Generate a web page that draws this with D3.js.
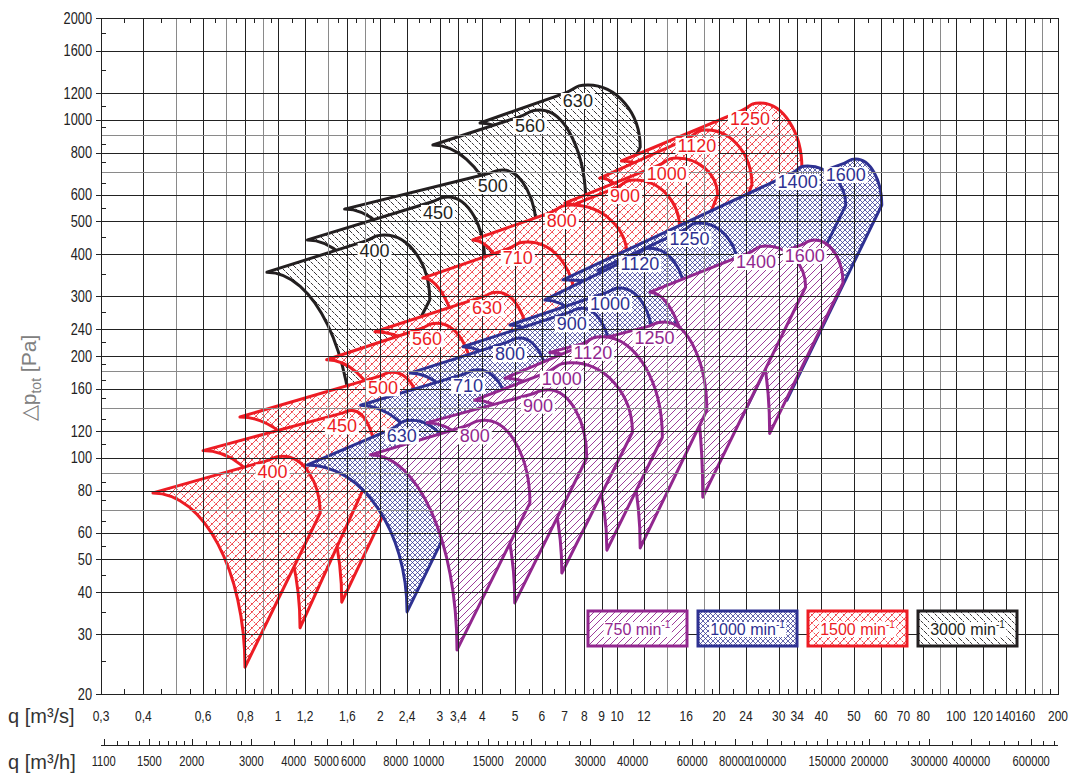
<!DOCTYPE html>
<html>
<head>
<meta charset="utf-8">
<script src="https://cdn.jsdelivr.net/npm/d3@7"></script>
<style>
  body { margin: 0; background: #fff; }
  svg { display: block; font-family: "Liberation Sans", Arial, sans-serif; }
</style>
</head>
<body>
<div id="chart"></div>
<script>
// ---------------------------------------------
// ---------          Data           -----------
// ---------------------------------------------

// flow axis q [m3/s]
const qGrid = [0.3,0.4,0.5,0.6,0.7,0.8,0.9,1,1.2,1.4,1.6,1.8,2,2.4,3,3.4,4,5,6,7,8,9,10,12,14,16,18,20,24,30,34,40,50,60,70,80,90,100,120,140,160,180,200];
const qLabels = [0.3,0.4,0.6,0.8,1,1.2,1.6,2,2.4,3,3.4,4,5,6,7,8,9,10,12,16,20,24,30,34,40,50,60,70,80,100,120,140,160,200];
const qMinor = [0.35,0.45,0.55,0.65,0.75,0.85,0.95,1.1,1.3,1.5,1.7,1.9,2.2,2.6,2.8,3.2,3.6,3.8,4.5,5.5,6.5,7.5,8.5,9.5,11,13,15,17,19,22,26,28,32,36,38,45,55,65,75,85,95,110,130,150,170,190];

// flow axis q [m3/h]
const qhLabels = [1100,1500,2000,3000,4000,5000,6000,8000,10000,15000,20000,30000,40000,60000,80000,100000,150000,200000,300000,400000,600000];
const qhMinor = [1200,1300,1400,1600,1700,1800,1900,2200,2400,2600,2800,3500,4500,5500,7000,9000,11000,12000,13000,14000,16000,17000,18000,19000,22000,24000,26000,28000,35000,45000,50000,55000,65000,70000,90000,110000,120000,130000,140000,160000,170000,180000,190000,220000,240000,260000,280000,350000,450000,500000,550000,650000,700000];

// pressure axis dp [Pa]
const pGrid = [2000,1600,1200,1000,900,800,700,600,500,400,300,240,200,180,160,140,120,100,90,80,70,60,50,40,30,20];
const pLabels = [2000,1600,1200,1000,800,600,500,400,300,240,200,160,120,100,80,60,50,40,30,20];
const pMinor = [1800,1400,1100,950,850,750,650,550,450,350,270,220,190,170,150,130,110,85,75,65,55,45,35,25];

// fan fields: [size, tip q, tip p, peak q, peak p, dome end q, dome end p, bottom q, bottom p]
const fans3000 = [
  [400, 0.926, 354, 2.06, 456, 2.80, 293, 1.66, 105],
  [450, 1.22, 441, 3.17, 591, 4.07, 379, 2.18, 131],
  [500, 1.57, 544, 4.60, 710, 5.80, 456, 2.82, 162],
  [560, 2.86, 842, 5.92, 1068, 8.09, 559, 5.13, 250],
  [630, 3.94, 978, 8.20, 1267, 11.7, 830, 7.06, 291]
];
const fans1500 = [
  [400, 0.427, 78.7, 1.03, 101, 1.33, 68.6, 0.798, 24.0],
  [450, 0.600, 105, 1.65, 138, 1.94, 97.2, 1.16, 31.4],
  [500, 0.771, 132, 2.18, 179, 2.69, 121, 1.54, 37.4],
  [560, 1.39, 195, 2.94, 250, 3.73, 172, 2.35, 65.4],
  [630, 1.93, 236, 4.42, 309, 5.45, 216, 3.63, 92.0],
  [710, 2.67, 340, 5.45, 435, 7.50, 289, 3.89, 67.7],
  [800, 3.75, 441, 7.35, 559, 10.7, 395, 5.72, 92.0],
  [900, 5.53, 498, 11.3, 663, 15.3, 478, 8.31, 113],
  [1000, 7.01, 567, 15.0, 771, 19.8, 599, 10.9, 134],
  [1120, 8.89, 672, 18.4, 933, 25.0, 641, 13.8, 153],
  [1250, 10.3, 755, 26.4, 1121, 35.1, 720, 19.4, 182]
];
const fans1000 = [
  [630, 1.22, 95.2, 2.48, 129, 3.48, 75.0, 2.40, 35.0],
  [710, 1.75, 143, 3.89, 182, 4.89, 121, 3.32, 41.2],
  [800, 2.45, 178, 5.17, 226, 6.33, 153, 4.36, 49.8],
  [900, 3.51, 213, 7.87, 277, 9.65, 188, 6.12, 61.1],
  [1000, 4.83, 247, 10.2, 318, 12.7, 223, 8.31, 72.5],
  [1120, 6.12, 293, 12.5, 417, 15.8, 303, 10.5, 85.9],
  [1250, 8.78, 359, 17.5, 495, 22.7, 364, 14.5, 102],
  [1400, 6.92, 336, 36.5, 730, 47.3, 559, 23.3, 131],
  [1600, 26.4, 603, 50.6, 765, 60.4, 559, 31.7, 148]
];
const fans750 = [
  [800, 1.87, 102, 4.07, 129, 5.53, 73.5, 3.37, 27.0],
  [900, 2.75, 127, 6.25, 159, 8.14, 99.8, 4.99, 37.2],
  [1000, 3.80, 148, 7.35, 191, 11.1, 119, 6.87, 45.6],
  [1120, 4.67, 172, 9.08, 228, 13.6, 115, 9.33, 53.3],
  [1250, 6.33, 205, 13.8, 252, 18.4, 138, 11.7, 54.1],
  [1400, 12.5, 309, 27.5, 423, 36.0, 320, 17.9, 76.5],
  [1600, 19.8, 345, 38.3, 441, 46.4, 329, 28.2, 118]
];

const speedNames = ["750", "1000", "1500", "3000"];
const speedColors = ["#92278f", "#2e3192", "#ed1c24", "#231f20"];
const speedFans = [fans750, fans1000, fans1500, fans3000];

// ---------------------------------------------
// ---------        Layout           -----------
// ---------------------------------------------

const W = 1070, H = 774;
const plot = {left: 101, right: 1058, top: 18, bottom: 694};
const narrow = 0.8;   // horizontal squeeze for the condensed tick fonts

const x = d3.scaleLog().domain([0.3, 200]).range([plot.left, plot.right]);
const xh = d3.scaleLog().domain([1080, 720000]).range([plot.left, plot.right]);
const y = d3.scaleLog().domain([20, 2000]).range([plot.bottom, plot.top]);

const svg = d3.select("#chart")
  .append("svg")
    .attr("width", W)
    .attr("height", H);

const defs = svg.append("defs");

// hatch patterns, white underneath so the fields hide what is behind
function addPattern(id, size, color, paths, width, dashes) {
  const p = defs.append("pattern")
    .attr("id", id)
    .attr("patternUnits", "userSpaceOnUse")
    .attr("width", size)
    .attr("height", size);
  p.append("rect").attr("width", size).attr("height", size).attr("fill", "#fff");
  paths.forEach((d, i) => {
    p.append("path")
      .attr("d", d)
      .attr("fill", "none")
      .attr("stroke", color)
      .attr("stroke-width", width)
      .attr("stroke-dasharray", dashes[i] || null);
  });
}
addPattern("pat750", 7, speedColors[0], ["M0,7L7,0M-1,1L1,-1M6,8L8,6"], 0.9, []);
addPattern("pat1000", 5, speedColors[1], ["M0,5L5,0M-1,1L1,-1M4,6L6,4", "M0,0L5,5M-1,4L1,6M4,-1L6,1"], 0.75, []);
addPattern("pat1500", 8, speedColors[2], ["M0,8L8,0M-1,1L1,-1M7,9L9,7", "M0,0L8,8M-1,7L1,9M7,-1L9,1"], 0.8, [null, "2.5,1.5"]);
addPattern("pat3000", 7, speedColors[3], ["M0,0L7,7M-1,6L1,8M6,-1L8,1"], 0.9, ["3,1"]);

// ---------------------------------------------
// ---------       Fan fields        -----------
// ---------------------------------------------

function fanPath(f) {
  const T = [x(f[1]), y(f[2])], P = [x(f[3]), y(f[4])],
        D = [x(f[5]), y(f[6])], B = [x(f[7]), y(f[8])];
  const sx = Math.max(T[0] + 4, P[0] - 0.45 * (D[0] - P[0]));
  const k = (sx - T[0]) / (P[0] - T[0]);
  const S = [sx, T[1] + k * (P[1] - T[1])];
  const ux = P[0] - T[0], uy = P[1] - T[1], ul = Math.hypot(ux, uy);
  const h = (P[0] - S[0]) * 0.6;
  const p = d3.path();
  p.moveTo(T[0], T[1]);
  p.lineTo(S[0], S[1]);
  p.bezierCurveTo(S[0] + ux / ul * h, S[1] + uy / ul * h, P[0] - h, P[1], P[0], P[1]);
  p.bezierCurveTo(P[0] + 0.55 * (D[0] - P[0]), P[1], D[0], D[1] - 0.55 * (D[1] - P[1]), D[0], D[1]);
  p.lineTo(B[0], B[1]);
  p.bezierCurveTo(B[0], B[1] - 0.55 * (B[1] - T[1]), T[0] + 0.55 * (B[0] - T[0]), T[1], T[0], T[1]);
  p.closePath();
  return p.toString();
}

const fieldsG = svg.append("g");
// back to front: 3000, 1500, 1000, 750 ; inside a speed the big sizes first
[3, 2, 1, 0].forEach(si => {
  const sorted = speedFans[si].slice().sort((a, b) => b[0] - a[0]);
  fieldsG.append("g")
    .selectAll("path")
    .data(sorted)
    .join("path")
      .attr("d", fanPath)
      .attr("fill", "url(#pat" + speedNames[si] + ")")
      .attr("stroke", speedColors[si])
      .attr("stroke-width", 3)
      .attr("stroke-linejoin", "round");
});

// ---------------------------------------------
// ---------          Grid           -----------
// ---------------------------------------------

const gridG = svg.append("g").attr("shape-rendering", "crispEdges");

gridG.selectAll(".vgrid")
  .data(qGrid)
  .join("line")
    .attr("x1", d => Math.round(x(d)) + 0.5).attr("x2", d => Math.round(x(d)) + 0.5)
    .attr("y1", plot.top).attr("y2", plot.bottom)
    .attr("stroke", d => qLabels.includes(d) ? "#222" : "#8a8a8a")
    .attr("stroke-width", 1);

gridG.selectAll(".hgrid")
  .data(pGrid)
  .join("line")
    .attr("y1", d => Math.round(y(d)) + 0.5).attr("y2", d => Math.round(y(d)) + 0.5)
    .attr("x1", plot.left).attr("x2", plot.right)
    .attr("stroke", d => pLabels.includes(d) ? "#222" : "#8a8a8a")
    .attr("stroke-width", 1);

// minor ticks top / bottom
gridG.selectAll(".qminTop")
  .data(qMinor)
  .join("line")
    .attr("x1", d => Math.round(x(d)) + 0.5).attr("x2", d => Math.round(x(d)) + 0.5)
    .attr("y1", plot.top).attr("y2", plot.top + 5)
    .attr("stroke", "#222");
gridG.selectAll(".qminBot")
  .data(qMinor)
  .join("line")
    .attr("x1", d => Math.round(x(d)) + 0.5).attr("x2", d => Math.round(x(d)) + 0.5)
    .attr("y1", plot.bottom - 5).attr("y2", plot.bottom)
    .attr("stroke", "#222");

// minor ticks left
gridG.selectAll(".pmin")
  .data(pMinor)
  .join("line")
    .attr("y1", d => Math.round(y(d)) + 0.5).attr("y2", d => Math.round(y(d)) + 0.5)
    .attr("x1", plot.left).attr("x2", plot.left + 5)
    .attr("stroke", "#222");

// labeled ticks left (outside)
gridG.selectAll(".pmaj")
  .data(pLabels)
  .join("line")
    .attr("y1", d => Math.round(y(d)) + 0.5).attr("y2", d => Math.round(y(d)) + 0.5)
    .attr("x1", plot.left - 5).attr("x2", plot.left)
    .attr("stroke", "#222");

// frame
gridG.append("rect")
  .attr("x", plot.left + 0.5).attr("y", plot.top + 0.5)
  .attr("width", plot.right - plot.left).attr("height", plot.bottom - plot.top)
  .attr("fill", "none").attr("stroke", "#222").attr("stroke-width", 1.3);

// ---------------------------------------------
// ---------      Fan size labels    -----------
// ---------------------------------------------

const labelsG = svg.append("g");
[3, 2, 1, 0].forEach(si => {
  speedFans[si].forEach(f => {
    const g = labelsG.append("g");
    const t = g.append("text")
      .attr("x", x(f[3]) - 10)
      .attr("y", y(f[4]) + 16)
      .attr("text-anchor", "middle")
      .attr("dominant-baseline", "central")
      .attr("font-size", 18)
      .attr("fill", speedColors[si])
      .text(f[0]);
    const bb = t.node().getBBox();
    g.insert("rect", "text")
      .attr("x", bb.x - 2).attr("y", bb.y + 2)
      .attr("width", bb.width + 4).attr("height", bb.height - 4)
      .attr("fill", "#fff");
  });
});

// ---------------------------------------------
// ---------          Legend         -----------
// ---------------------------------------------

const legendG = svg.append("g");
speedNames.forEach((name, i) => {
  const lx = 588 + i * 110, ly = 611;
  const g = legendG.append("g").attr("transform", "translate(" + lx + "," + ly + ")");
  g.append("rect")
    .attr("width", 99).attr("height", 35)
    .attr("fill", "url(#pat" + name + ")")
    .attr("stroke", speedColors[i]).attr("stroke-width", 3);
  const t = g.append("text")
    .attr("x", 49.5).attr("y", 24)
    .attr("text-anchor", "middle")
    .attr("font-size", 16)
    .attr("fill", speedColors[i]);
  t.append("tspan").text(name + " min");
  t.append("tspan").attr("font-size", 10).attr("dy", -7).text("-1");
  const bb = t.node().getBBox();
  g.insert("rect", "text")
    .attr("x", bb.x - 1).attr("y", bb.y + 3)
    .attr("width", bb.width + 2).attr("height", bb.height - 4)
    .attr("fill", "#fff");
});

// ---------------------------------------------
// ---------       Axis labels       -----------
// ---------------------------------------------

const axisG = svg.append("g").attr("fill", "#222");

axisG.selectAll(".plab")
  .data(pLabels)
  .join("text")
    .attr("transform", d => "translate(" + (plot.left - 9) + "," + y(d) + ") scale(" + narrow + ",1)")
    .attr("text-anchor", "end")
    .attr("dominant-baseline", "central")
    .attr("font-size", 16)
    .text(d => d);

axisG.selectAll(".qlab")
  .data(qLabels)
  .join("text")
    .attr("transform", d => "translate(" + x(d) + ",716) scale(" + narrow + ",1)")
    .attr("text-anchor", "middle")
    .attr("dominant-baseline", "central")
    .attr("font-size", 15)
    .text(d => String(d).replace(".", ","));

// m3/h axis
const hAxisY = 745;
axisG.append("line")
  .attr("x1", plot.left).attr("x2", plot.right)
  .attr("y1", hAxisY + 0.5).attr("y2", hAxisY + 0.5)
  .attr("stroke", "#222");
axisG.selectAll(".qhmaj")
  .data(qhLabels)
  .join("line")
    .attr("x1", d => Math.round(xh(d)) + 0.5).attr("x2", d => Math.round(xh(d)) + 0.5)
    .attr("y1", hAxisY - 6).attr("y2", hAxisY)
    .attr("stroke", "#222");
axisG.selectAll(".qhmin")
  .data(qhMinor)
  .join("line")
    .attr("x1", d => Math.round(xh(d)) + 0.5).attr("x2", d => Math.round(xh(d)) + 0.5)
    .attr("y1", hAxisY - 4).attr("y2", hAxisY)
    .attr("stroke", "#222");
axisG.selectAll(".qhlab")
  .data(qhLabels)
  .join("text")
    .attr("transform", d => "translate(" + xh(d) + ",762) scale(" + narrow + ",1)")
    .attr("text-anchor", "middle")
    .attr("dominant-baseline", "central")
    .attr("font-size", 14)
    .text(d => d);

// axis titles
axisG.append("text")
  .attr("x", 8).attr("y", 723)
  .attr("font-size", 20).attr("fill", "#333")
  .text("q [m³/s]");
axisG.append("text")
  .attr("x", 8).attr("y", 769)
  .attr("font-size", 20).attr("fill", "#333")
  .text("q [m³/h]");

const yTitle = axisG.append("text")
  .attr("transform", "translate(36,378) rotate(-90)")
  .attr("text-anchor", "middle")
  .attr("font-size", 21)
  .attr("fill", "#808080");
yTitle.append("tspan").text("△p");
yTitle.append("tspan").attr("font-size", 14).attr("dy", 5).text("tot");
yTitle.append("tspan").attr("dy", -5).text(" [Pa]");
</script>
</body>
</html>
